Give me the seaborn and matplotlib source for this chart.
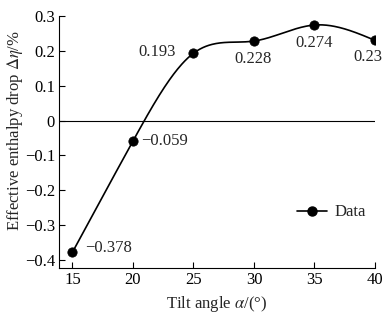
import numpy as np
import pandas as pd
import matplotlib
matplotlib.use("Agg")
import matplotlib.pyplot as plt
import seaborn as sns

# 数据
tilt_angle = [15, 20, 25, 30, 35, 40]
enthalpy_drop = [-0.378, -0.059, 0.193, 0.228, 0.274, 0.23]
point_labels = ["\u22120.378", "\u22120.059", "0.193", "0.228", "0.274", "0.23"]
x_ticks = [15, 20, 25, 30, 35, 40]
y_ticks = [-0.4, -0.3, -0.2, -0.1, 0, 0.1, 0.2, 0.3]
y_ticklabels = ["\u22120.4", "\u22120.3", "\u22120.2", "\u22120.1", "0", "0.1", "0.2", "0.3"]


def natural_spline(x, y, xs):
    # 自然三次样条，只用于画平滑曲线
    x = np.asarray(x, float)
    y = np.asarray(y, float)
    n = len(x)
    h = np.diff(x)
    A = np.zeros((n, n))
    b = np.zeros(n)
    A[0, 0] = A[-1, -1] = 1
    for i in range(1, n - 1):
        A[i, i - 1] = h[i - 1]
        A[i, i] = 2 * (h[i - 1] + h[i])
        A[i, i + 1] = h[i]
        b[i] = 3 * ((y[i + 1] - y[i]) / h[i] - (y[i] - y[i - 1]) / h[i - 1])
    c = np.linalg.solve(A, b)
    out = np.empty_like(xs)
    for k, xv in enumerate(xs):
        i = min(max(np.searchsorted(x, xv) - 1, 0), n - 2)
        dx = xv - x[i]
        bi = (y[i + 1] - y[i]) / h[i] - h[i] * (2 * c[i] + c[i + 1]) / 3
        di = (c[i + 1] - c[i]) / (3 * h[i])
        out[k] = y[i] + bi * dx + c[i] * dx ** 2 + di * dx ** 3
    return out


sns.set_style("ticks")
plt.rcParams['font.family'] = ['Liberation Serif', 'DejaVu Serif']
plt.rcParams['mathtext.fontset'] = 'stix'

fig = plt.figure(figsize=(3.89, 3.13), dpi=100)
ax = fig.add_axes([0.152, 0.144, 0.812, 0.805])

df = pd.DataFrame({"x": tilt_angle, "y": enthalpy_drop})
xs = np.linspace(min(tilt_angle), max(tilt_angle), 300)
ys = natural_spline(tilt_angle, enthalpy_drop, xs)

ax.axhline(0, color='black', linewidth=0.8, zorder=1)
ax.plot(xs, ys, color='black', linewidth=1.2, zorder=2)
sns.scatterplot(data=df, x="x", y="y", ax=ax, color='black', s=45,
                edgecolor='black', zorder=3, legend=False)
# 图例用线+点
ax.plot([], [], color='black', marker='o', markersize=6.5, linewidth=1.2, label='Data')

# 标注偏移 (points)
offsets = [(9, 3, 'left', 'center'), (6, 0, 'left', 'center'),
           (-13, 1, 'right', 'center'), (-1, -7, 'center', 'top'),
           (0, -7, 'center', 'top'), (-5, -6, 'center', 'top')]
for xv, yv, lab, (dx, dy, ha, va) in zip(tilt_angle, enthalpy_drop, point_labels, offsets):
    ax.annotate(lab, (xv, yv), xytext=(dx, dy), textcoords='offset points',
                ha=ha, va=va, fontsize=12)

ax.set_xlim(13.9, 40)
ax.set_ylim(-0.423, 0.3)
ax.set_xticks(x_ticks)
ax.set_yticks(y_ticks)
ax.set_yticklabels(y_ticklabels)
ax.tick_params(direction='in', length=4, width=0.8, labelsize=12, colors='black', pad=3)
for s in ['top', 'right']:
    ax.spines[s].set_visible(False)
for s in ['left', 'bottom']:
    ax.spines[s].set_linewidth(0.8)
    ax.spines[s].set_color('black')

ax.set_xlabel(r"Tilt angle $\alpha$/(°)", fontsize=12, labelpad=4)
ax.set_ylabel(r"Effective enthalpy drop $\Delta\eta$/%", fontsize=12)
ax.yaxis.set_label_coords(-0.108, 0.545)
ax.legend(loc='center right', frameon=False, fontsize=12, handlelength=1.8,
          handletextpad=0.5, bbox_to_anchor=(1.02, 0.22))

plt.savefig("out.png", dpi=100)
plt.close(fig)
